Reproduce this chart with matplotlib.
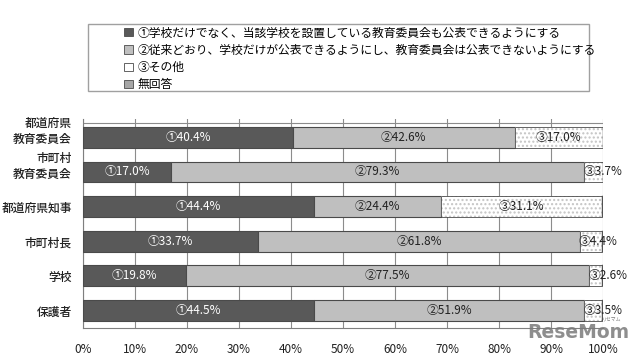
import matplotlib
matplotlib.use("Agg")
import matplotlib.pyplot as plt
from matplotlib.patches import Rectangle, Patch

plt.rcParams['font.family'] = ['Noto Sans CJK JP', 'DejaVu Sans']

categories = ["都道府県\n教育委員会", "市町村\n教育委員会", "都道府県知事", "市町村長", "学校", "保護者"]
opt1 = [40.4, 17.0, 44.4, 33.7, 19.8, 44.5]
opt2 = [42.6, 79.3, 24.4, 61.8, 77.5, 51.9]
opt3 = [17.0, 3.7, 31.1, 4.4, 2.6, 3.5]
noans = [0.0, 0.0, 0.1, 0.1, 0.1, 0.1]
legend_labels = ["①学校だけでなく、当該学校を設置している教育委員会も公表できるようにする",
                 "②従来どおり、学校だけが公表できるようにし、教育委員会は公表できないようにする",
                 "③その他",
                 "無回答"]
prefixes = ["①", "②", "③"]
xticks = [0, 10, 20, 30, 40, 50, 60, 70, 80, 90, 100]

c1, c2, c4 = "#595959", "#bfbfbf", "#a6a6a6"
edge = "#4a4a4a"
tc = "#222222"

fig = plt.figure(figsize=(6.4, 3.57), dpi=100)
ax = fig.add_axes([83/640, 1-328/357, 520/640, 209/357])

y = list(range(len(categories)))
h = 0.6
left2 = [a for a in opt1]
left3 = [a + b for a, b in zip(opt1, opt2)]
left4 = [a + b + c for a, b, c in zip(opt1, opt2, opt3)]

ax.barh(y, opt1, height=h, color=c1, edgecolor=edge, linewidth=0.8, zorder=3)
ax.barh(y, opt2, left=left2, height=h, color=c2, edgecolor=edge, linewidth=0.8, zorder=3)
ax.barh(y, opt3, left=left3, height=h, color="white", edgecolor="#c4c4c4", hatch="....", linewidth=0, zorder=3)
ax.barh(y, opt3, left=left3, height=h, fill=False, edgecolor=edge, linewidth=0.6, zorder=4)
ax.barh(y, noans, left=left4, height=h, color=c4, edgecolor=edge, linewidth=0.3, zorder=3)

fs = 8.5
for i in y:
    ax.text(opt1[i]/2, i, f"{prefixes[0]}{opt1[i]:.1f}%", ha="center", va="center",
            color="white", fontsize=fs, zorder=5)
    ax.text(left2[i] + opt2[i]/2, i, f"{prefixes[1]}{opt2[i]:.1f}%", ha="center", va="center",
            color=tc, fontsize=fs, zorder=5)
    if opt3[i] >= 10:
        ax.text(left3[i] + opt3[i]/2, i, f"{prefixes[2]}{opt3[i]:.1f}%", ha="center", va="center",
                color=tc, fontsize=fs, zorder=5)
    else:
        ax.text(left3[i] - 0.1, i, f"{prefixes[2]}{opt3[i]:.1f}%", ha="left", va="center",
                color=tc, fontsize=fs, zorder=5)

ax.set_xlim(0, 100)
ax.set_ylim(5.51, -0.53)
ax.set_xticks(xticks)
ax.set_xticklabels([f"{t}%" for t in xticks], fontsize=8.5, color=tc)
ax.set_yticks(y)
ax.set_yticklabels([])
ax.tick_params(axis="both", length=0)
ax.tick_params(axis="x", pad=11)

# category labels: last line aligned with bar centre, earlier lines stacked above
for i, cat in enumerate(categories):
    lines = cat.split("\n")
    n = len(lines)
    for k, line in enumerate(lines):
        ax.annotate(line, xy=(0, i), xycoords=("axes fraction", "data"),
                    xytext=(-8, (n - 1 - k) * 11.5 - 1.5), textcoords="offset points",
                    ha="right", va="center", fontsize=8.5, color=tc, fontweight="medium")

ax.grid(axis="x", color="#8c8c8c", linewidth=0.8, zorder=0)
ax.set_axisbelow(True)
for s in ["top", "right"]:
    ax.spines[s].set_visible(False)
ax.spines["left"].set_color("#7f7f7f")
ax.spines["bottom"].set_color("#7f7f7f")
ax.axhline(-0.42, color="#8c8c8c", linewidth=0.8, zorder=1)

# legend
fig.patches.append(Rectangle((88/640, 1-91/357), 501/640, 67/357, transform=fig.transFigure,
                             fill=False, edgecolor="#a0a0a0", linewidth=1.0))
handles = [Patch(facecolor=c1, edgecolor=edge, linewidth=0.6),
           Patch(facecolor=c2, edgecolor=edge, linewidth=0.6),
           Patch(facecolor="white", edgecolor=edge, linewidth=0.6),
           Patch(facecolor=c4, edgecolor=edge, linewidth=0.6)]
fig.legend(handles, legend_labels, loc="upper left", bbox_to_anchor=(115/640, 1-17/357),
           frameon=False, fontsize=8.5, handlelength=0.7, handleheight=0.7, handletextpad=0.4,
           labelspacing=0.36, borderpad=0.3)

# watermark
fig.text(578/640, 1-333/357, "ReseMom", ha="center", va="center", fontsize=13.5,
         fontweight="bold", color="#7a7a7a", alpha=0.85, family=["DejaVu Sans"])
fig.text(612/640, 1-319/357, "リセマム", ha="center", va="center", fontsize=3.5, color="#7a7a7a")

fig.savefig("out.png", dpi=100)
